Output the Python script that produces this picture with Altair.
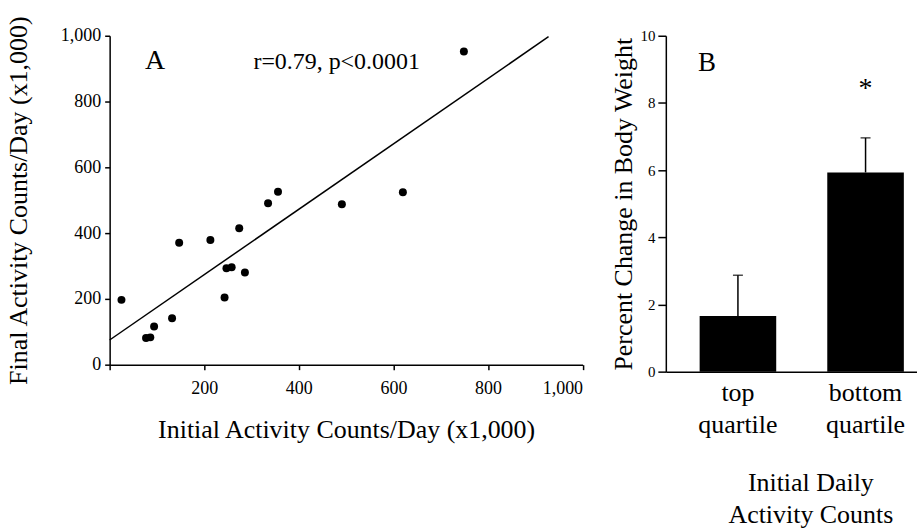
import altair as alt
import pandas as pd

# ---------------- Panel A data ----------------
init_counts = [25, 77, 86, 94, 132, 147, 213, 243, 247, 258, 274, 286, 335, 356, 491, 620, 749]
final_counts = [197, 81, 83, 116, 141, 371, 379, 204, 293, 296, 415, 280, 491, 526, 488, 524, 952]
fit_x = [0, 928]
fit_y = [75, 997]
x_ticks = [0, 200, 400, 600, 800, 1000]
y_ticks = [0, 200, 400, 600, 800, 1000]

# ---------------- Panel B data ----------------
groups = ["top quartile", "bottom quartile"]
pct_change = [1.66, 5.93]
pct_err = [1.21, 1.03]
star_group = ["bottom quartile"]
star_y = [8.4]
b_ticks = [0, 2, 4, 6, 8, 10]

FONT = "Liberation Serif"

df_a = pd.DataFrame({"x": init_counts, "y": final_counts})
df_fit = pd.DataFrame({"x": fit_x, "y": fit_y})
df_b = pd.DataFrame({"g": groups, "v": pct_change, "e": pct_err})
df_b["top"] = df_b["v"] + df_b["e"]
df_star = pd.DataFrame({"g": star_group, "y": star_y, "t": ["*"]})

axis_common = dict(
    domainColor="black", domainWidth=1.5, tickColor="black", tickWidth=1.5,
    labelColor="black", labelFont=FONT, titleFont=FONT, titleColor="black",
    titleFontWeight="normal", grid=False,
)

xA = alt.X("x:Q", scale=alt.Scale(domain=[0, 1000], nice=False),
           axis=alt.Axis(title="Initial Activity Counts/Day (x1,000)", values=x_ticks,
                         labelExpr="datum.value == 0 ? '' : format(datum.value, ',')",
                         tickSize=5, labelPadding=10, labelFontSize=18,
                         titleFontSize=26, titlePadding=19, **axis_common))
yA = alt.Y("y:Q", scale=alt.Scale(domain=[0, 1000], nice=False),
           axis=alt.Axis(title="Final Activity Counts/Day  (x1,000)", values=y_ticks,
                         labelExpr="format(datum.value, ',')",
                         tickSize=5, labelPadding=4, labelFontSize=18,
                         titleFontSize=26, titlePadding=29, **axis_common))

pts = alt.Chart(df_a).mark_circle(size=64, color="black", opacity=1).encode(x=xA, y=yA)
fit = alt.Chart(df_fit).mark_line(color="black", strokeWidth=1.5).encode(x="x:Q", y="y:Q")
lab_a = alt.Chart(pd.DataFrame({"x": [96], "y": [922], "t": ["A"]})).mark_text(
    font=FONT, fontSize=28, color="black", baseline="middle", align="center"
).encode(x="x:Q", y="y:Q", text="t:N")
lab_r = alt.Chart(pd.DataFrame({"x": [304], "y": [921], "t": ["r=0.79, p<0.0001"]})).mark_text(
    font=FONT, fontSize=24, color="black", baseline="middle", align="left"
).encode(x="x:Q", y="y:Q", text="t:N")

panel_a = alt.layer(pts, fit, lab_a, lab_r).properties(width=474.5, height=330)

xB = alt.X("g:N", sort=groups,
           scale=alt.Scale(paddingInner=0.4, paddingOuter=0.184, align=0.72),
           axis=alt.Axis(title=["Initial Daily", "Activity Counts"], labelAngle=0,
                         labelExpr="split(datum.label, ' ')", ticks=False,
                         labelPadding=8, labelFontSize=26, labelLineHeight=32,
                         labelBaseline="top",
                         titleFontSize=26, titleLineHeight=32, titleX=145, titleY=119,
                         titleBaseline="alphabetic", titleAlign="center", **axis_common))
yB = alt.Y("v:Q", scale=alt.Scale(domain=[0, 10], nice=False),
           axis=alt.Axis(title="Percent Change in Body Weight", values=b_ticks,
                         tickSize=8, labelPadding=3, labelFontSize=15,
                         titleFontSize=26, titlePadding=3, **axis_common))

bars = alt.Chart(df_b).mark_bar(color="black").encode(x=xB, y=yB)
err = alt.Chart(df_b).mark_rule(color="black", strokeWidth=1.5).encode(
    x=alt.X("g:N", sort=groups), y="v:Q", y2="top:Q")
cap = alt.Chart(df_b).mark_tick(color="black", thickness=1.5, size=10).encode(
    x=alt.X("g:N", sort=groups), y="top:Q")
star = alt.Chart(df_star).mark_text(font=FONT, fontSize=28, color="black", baseline="middle").encode(
    x=alt.X("g:N", sort=groups), y="y:Q", text="t:N")
lab_b = alt.Chart(pd.DataFrame({"g": ["top quartile"], "y": [9.2], "t": ["B"]})).mark_text(
    font=FONT, fontSize=27, color="black", baseline="middle", align="center", dx=-31
).encode(x=alt.X("g:N", sort=groups), y="y:Q", text="t:N")

panel_b = alt.layer(bars, err, cap, star, lab_b).properties(width=252, height=337)

chart = alt.hconcat(panel_a, panel_b, spacing=83, bounds="flush").configure_view(
    stroke=None
).properties(
    padding={"left": 5, "top": 11, "right": 0, "bottom": 0},
    background="white",
)

chart.save("out.html", embed_options={"renderer": "svg", "actions": False})
